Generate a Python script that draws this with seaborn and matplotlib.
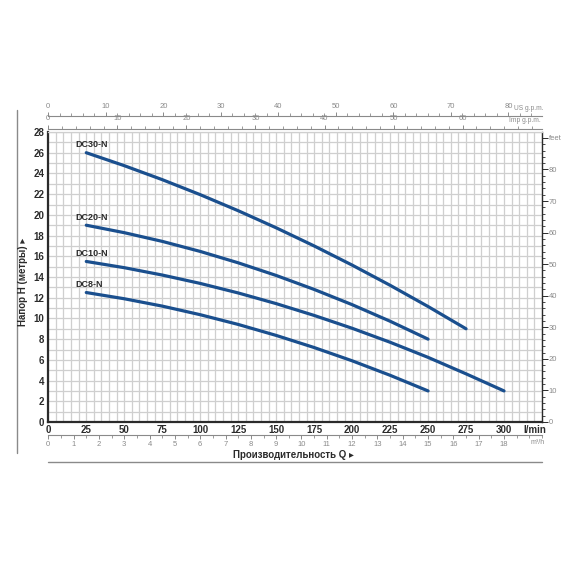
import matplotlib
matplotlib.use("Agg")
import matplotlib.pyplot as plt
from matplotlib.lines import Line2D
from matplotlib.ticker import MultipleLocator
import pandas as pd
import seaborn as sns

# flow in l/min, head in metres
dc30_q = [25, 50, 75, 100, 125, 150, 175, 200, 225, 250, 275]
dc30_h = [26.0, 24.75, 23.4, 21.95, 20.4, 18.75, 17.0, 15.15, 13.2, 11.15, 9.0]

dc20_q = [25, 50, 75, 100, 125, 150, 175, 200, 225, 250]
dc20_h = [19.0, 18.28, 17.44, 16.47, 15.37, 14.15, 12.8, 11.33, 9.73, 8.0]

dc10_q = [25, 50, 75, 100, 125, 150, 175, 200, 225, 250, 275, 300]
dc10_h = [15.5, 14.9, 14.19, 13.38, 12.46, 11.43, 10.29, 9.05, 7.7, 6.24, 4.65, 3.0]

dc8_q = [25, 50, 75, 100, 125, 150, 175, 200, 225, 250]
dc8_h = [12.5, 11.9, 11.19, 10.36, 9.42, 8.36, 7.19, 5.91, 4.51, 3.0]

models = ["DC30-N", "DC20-N", "DC10-N", "DC8-N"]
flows = [dc30_q, dc20_q, dc10_q, dc8_q]
heads = [dc30_h, dc20_h, dc10_h, dc8_h]

lmin_ticks = list(range(0, 301, 25))
head_ticks = list(range(0, 29, 2))
m3h_ticks = list(range(0, 19))
usgpm_ticks = list(range(0, 81, 10))
impgpm_ticks = list(range(0, 61, 10))
feet_ticks = list(range(0, 91, 10))

LINE = "#1a4f8e"
GRID = "#cfcfcf"
DARK = "#2b2b2b"
SOFT = "#8a8a8a"

sns.set_style("white")
plt.rcParams["font.family"] = ["Liberation Sans", "DejaVu Sans"]

rows = []
for name, q, h in zip(models, flows, heads):
    for a, b in zip(q, h):
        rows.append({"model": name, "q": a, "h": b})
df = pd.DataFrame(rows)

fig = plt.figure(figsize=(5.7, 5.7), dpi=100)
ax = fig.add_axes([48.3 / 570, 1 - 422 / 570, (542 - 48.3) / 570, 290 / 570])

sns.lineplot(
    data=df, x="q", y="h", hue="model",
    palette={m: LINE for m in models},
    linewidth=2.3, legend=False, ax=ax,
)

ax.set_xlim(0, 325)
ax.set_ylim(0, 28)
ax.xaxis.set_minor_locator(MultipleLocator(5))
ax.yaxis.set_minor_locator(MultipleLocator(1))
ax.set_xticks(lmin_ticks)
ax.set_yticks(head_ticks)
ax.grid(which="both", color=GRID, linewidth=0.9)
ax.set_axisbelow(True)
ax.tick_params(which="both", length=0)
ax.tick_params(axis="x", pad=2, labelsize=7, labelcolor=DARK)
ax.tick_params(axis="y", pad=3, labelsize=7, labelcolor=DARK)
for lab in ax.get_xticklabels() + ax.get_yticklabels():
    lab.set_fontweight("bold")
ax.set_xlabel("")
ax.set_ylabel("")

for side in ["left", "bottom"]:
    ax.spines[side].set_color(DARK)
    ax.spines[side].set_linewidth(1.6)
ax.spines["right"].set_color(DARK)
ax.spines["right"].set_linewidth(1.0)
ax.spines["top"].set_color(GRID)
ax.spines["top"].set_linewidth(0.9)

for name, q, h in zip(models, flows, heads):
    ax.text(17.5, h[0] + 0.75, name, fontsize=6.5, fontweight="bold",
            color=DARK, ha="left", va="center")

ax.annotate("l/min", xy=(320, 0), xycoords=("data", "axes fraction"),
            xytext=(0, -2), textcoords="offset points",
            ha="center", va="top", fontsize=7, fontweight="bold", color=DARK)

# m3/h scale below
m3 = ax.secondary_xaxis(-0.045, functions=(lambda x: x * 0.06, lambda x: x / 0.06))
m3.set_xticks(m3h_ticks)
m3.xaxis.set_minor_locator(MultipleLocator(0.5))
m3.tick_params(which="major", length=3, width=0.7, color=SOFT, labelsize=5.5,
               labelcolor=SOFT, pad=1.5)
m3.tick_params(which="minor", length=2, width=0.6, color=SOFT)
m3.spines["bottom"].set_color(SOFT)
m3.spines["bottom"].set_linewidth(0.8)
ax.annotate("m³/h", xy=(322, -0.045), xycoords=("data", "axes fraction"),
            xytext=(0, -3), textcoords="offset points",
            ha="center", va="top", fontsize=5, color=SOFT)

# US g.p.m. on top
us = ax.secondary_xaxis(1.056, functions=(lambda x: x / 3.78541, lambda x: x * 3.78541))
us.set_xticks(usgpm_ticks)
us.xaxis.set_minor_locator(MultipleLocator(2))
us.tick_params(which="major", length=3, width=0.7, color=SOFT, labelsize=5.5,
               labelcolor=SOFT, pad=1.5)
us.tick_params(which="minor", length=2, width=0.6, color=SOFT)
us.spines["top"].set_color(SOFT)
us.spines["top"].set_linewidth(0.8)
ax.annotate("US g.p.m.", xy=(1.003, 1.056), xycoords="axes fraction",
            xytext=(0, 3), textcoords="offset points",
            ha="right", va="bottom", fontsize=4.8, color=SOFT)

# Imp g.p.m. on top
imp = ax.secondary_xaxis(1.012, functions=(lambda x: x / 4.54609, lambda x: x * 4.54609))
imp.set_xticks(impgpm_ticks)
imp.xaxis.set_minor_locator(MultipleLocator(2))
imp.tick_params(which="major", length=3, width=0.7, color=SOFT, labelsize=5.5,
                labelcolor=SOFT, pad=1.5)
imp.tick_params(which="minor", length=2, width=0.6, color=SOFT)
imp.spines["top"].set_color(SOFT)
imp.spines["top"].set_linewidth(0.8)
ax.annotate("Imp g.p.m.", xy=(0.998, 1.012), xycoords="axes fraction",
            xytext=(0, 3), textcoords="offset points",
            ha="right", va="bottom", fontsize=4.8, color=SOFT)

# feet on the right
ft = ax.secondary_yaxis("right", functions=(lambda y: y * 3.28084, lambda y: y / 3.28084))
ft.set_yticks(feet_ticks)
ft.set_yticklabels([str(v) for v in feet_ticks[:-1]] + ["feet"])
ft.yaxis.set_minor_locator(MultipleLocator(2))
ft.tick_params(which="major", length=4, width=0.7, color=DARK, labelsize=5.5,
               labelcolor=SOFT, pad=1)
ft.tick_params(which="minor", length=2.5, width=0.6, color=DARK)
ft.spines["right"].set_visible(False)

fig.text(23 / 570, 1 - 282 / 570, "Напор H (метры) ▸", rotation=90,
         ha="center", va="center", fontsize=7, fontweight="bold", color=DARK)
fig.text(293 / 570, 1 - 455 / 570, "Производительность Q ▸",
         ha="center", va="center", fontsize=7, fontweight="bold", color=DARK)

fig.add_artist(Line2D([17 / 570, 17 / 570], [1 - 110 / 570, 1 - 453 / 570],
                      color=SOFT, linewidth=1.0))
fig.add_artist(Line2D([48 / 570, 542 / 570], [1 - 462 / 570, 1 - 462 / 570],
                      color=SOFT, linewidth=1.0))

fig.savefig("out.png", dpi=100)
